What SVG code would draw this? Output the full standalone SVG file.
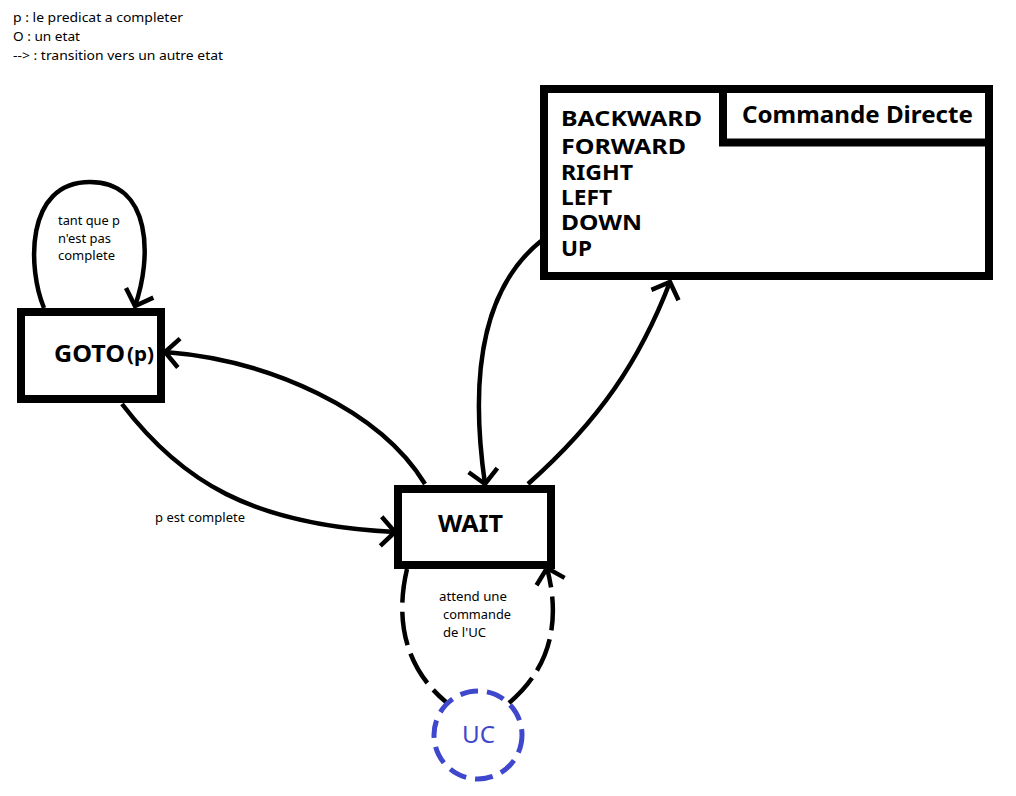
<svg xmlns="http://www.w3.org/2000/svg" width="1016" height="796" viewBox="0 0 1016 796">
<style>
.box{fill:#fff;stroke:#000;stroke-width:8;stroke-linejoin:miter}
.edge{fill:none;stroke:#000;stroke-width:4.5;stroke-linecap:butt}
.dash{stroke-dasharray:34 9}
.small{font-family:"Noto Sans","Open Sans","Liberation Sans",sans-serif;font-size:12.5px;fill:#000}
.big{font-family:"Noto Sans","Open Sans","Liberation Sans",sans-serif;font-weight:bold;fill:#000}
.cmd{font-size:21px}
.uc{fill:#fff;stroke:#3f48cc;stroke-width:5;stroke-dasharray:18 9}
</style>
<defs>
<marker id="arr" markerUnits="userSpaceOnUse" markerWidth="40" markerHeight="40" viewBox="-20 -20 40 40" refX="0" refY="0" orient="auto">
<path d="M -14 -14.5 L 0 0 L -14 14.5" fill="none" stroke="#000" stroke-width="4.5" stroke-dasharray="none"/>
</marker>
</defs>
<rect width="1016" height="796" fill="#fff"/>
<g id="legend">
<text class="small" x="13" y="22" textLength="170" lengthAdjust="spacingAndGlyphs">p : le predicat a completer</text>
<text class="small" x="13" y="41" textLength="67" lengthAdjust="spacingAndGlyphs">O : un etat</text>
<text class="small" x="13" y="60" textLength="210" lengthAdjust="spacingAndGlyphs">--&gt; : transition vers un autre etat</text>
</g>
<g id="connectors">
<path class="edge" d="M 44 308 C 28 270, 24 182, 90 182 C 152 182, 152 258, 135 306" marker-end="url(#arr)"/>
<path class="edge" d="M 425 484 C 380 410, 270 360, 165 352" marker-end="url(#arr)"/>
<path class="edge" d="M 122 404 C 180 480, 250 525, 395 532" marker-end="url(#arr)"/>
<path class="edge" d="M 541 241 C 480 290, 470 380, 485 484" marker-end="url(#arr)"/>
<path class="edge" d="M 528 484 C 600 420, 640 360, 670 282" marker-end="url(#arr)"/>
<path class="edge dash" d="M 407 569 C 395 620, 405 668, 446 702"/>
<path class="edge dash" d="M 509 703 C 548 670, 562 625, 547 568" marker-end="url(#arr)"/>
<text class="small" x="58" y="225" textLength="62" lengthAdjust="spacingAndGlyphs">tant que p</text>
<text class="small" x="58" y="243" textLength="53" lengthAdjust="spacingAndGlyphs">n'est pas</text>
<text class="small" x="58" y="260" textLength="57" lengthAdjust="spacingAndGlyphs">complete</text>
<text class="small" x="155" y="522" textLength="90" lengthAdjust="spacingAndGlyphs">p est complete</text>
<text class="small" x="439" y="601" textLength="68" lengthAdjust="spacingAndGlyphs">attend une</text>
<text class="small" x="443" y="619" textLength="68" lengthAdjust="spacingAndGlyphs">commande</text>
<text class="small" x="443" y="637" textLength="43" lengthAdjust="spacingAndGlyphs">de l'UC</text>
</g>
<g id="goto">
<rect class="box" x="21" y="312" width="140" height="87"/>
<text class="big" x="54" y="362" font-size="23" textLength="71" lengthAdjust="spacingAndGlyphs">GOTO</text>
<text class="big" x="127" y="361" font-size="20" textLength="27" lengthAdjust="spacingAndGlyphs">(p)</text>
</g>
<g id="wait">
<rect class="box" x="398" y="489" width="153" height="76"/>
<text class="big" x="438" y="532" font-size="23" textLength="65" lengthAdjust="spacingAndGlyphs">WAIT</text>
</g>
<g id="commande">
<rect class="box" x="544" y="89" width="445" height="187"/>
<path d="M 723 89 V 142.5 H 989" fill="none" stroke="#000" stroke-width="8"/>
<text class="big" x="742" y="123" font-size="24" textLength="231" lengthAdjust="spacingAndGlyphs">Commande Directe</text>
<text class="big cmd" x="561" y="126" textLength="141" lengthAdjust="spacingAndGlyphs">BACKWARD</text>
<text class="big cmd" x="561" y="154" textLength="125" lengthAdjust="spacingAndGlyphs">FORWARD</text>
<text class="big cmd" x="561" y="180" textLength="72" lengthAdjust="spacingAndGlyphs">RIGHT</text>
<text class="big cmd" x="561" y="205" textLength="51" lengthAdjust="spacingAndGlyphs">LEFT</text>
<text class="big cmd" x="561" y="230" textLength="81" lengthAdjust="spacingAndGlyphs">DOWN</text>
<text class="big cmd" x="561" y="256" textLength="31" lengthAdjust="spacingAndGlyphs">UP</text>
</g>
<g id="uc">
<circle class="uc" cx="478" cy="735" r="44"/>
<text x="462" y="743" font-family="Noto Sans, Open Sans, Liberation Sans, sans-serif" font-size="24" fill="#3f48cc" textLength="33" lengthAdjust="spacingAndGlyphs">UC</text>
</g>
</svg>
